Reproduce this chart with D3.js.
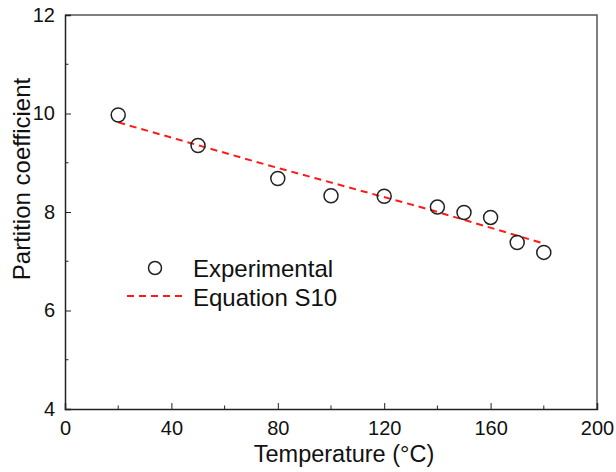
<!DOCTYPE html>
<html>
<head>
<meta charset="UTF-8" />
<title>Partition coefficient vs temperature</title>
<script src="https://d3js.org/d3.v7.min.js"></script>
<style>
	body { margin: 0; background: #fff; }
	text { font-family: Arial, "Liberation Sans", sans-serif; fill: #111; }
</style>
</head>
<body>
<div id="chart"></div>
<script type="text/javascript">

	// experimental points
	var temps = [20, 50, 80, 100, 120, 140, 150, 160, 170, 180]
	var coeffs = [9.97, 9.35, 8.68, 8.33, 8.32, 8.10, 7.99, 7.89, 7.38, 7.18]

	// Equation S10 line
	var fitTemps = [20, 75, 137, 180]
	var fitCoeffs = [9.82, 8.97, 8.05, 7.36]

	var xTicks = [0, 40, 80, 120, 160, 200]
	var yTicks = [4, 6, 8, 10, 12]

	var margin = {top: 15, right: 19, bottom: 63, left: 65},
		width = 616 - margin.left - margin.right,
		height = 472 - margin.top - margin.bottom;

	var svg = d3.select("#chart")
		.append("svg")
			.attr("width", 616)
			.attr("height", 472)
		.append("g")
			.attr("transform", "translate(" + margin.left + "," + margin.top + ")");

	var x = d3.scaleLinear().domain([0, 200]).range([0, width])
	var y = d3.scaleLinear().domain([4, 12]).range([height, 0])

	// frame (top and right)
	svg.append("path")
		.attr("d", "M0,0H" + width + "V" + height)
		.attr("fill", "none")
		.attr("stroke", "#555")
		.attr("stroke-width", 1.5)

	// bottom axis
	var xAxis = svg.append("g")
		.attr("transform", "translate(0," + height + ")")
		.call(d3.axisBottom(x).tickValues(xTicks).tickSize(-6).tickPadding(12).tickFormat(d3.format("d")))
	xAxis.selectAll("text").style("font-size", "20px")
	xAxis.append("g").selectAll("line")
		.data(d3.range(20, 200, 40))
		.enter().append("line")
			.attr("x1", function(d) { return x(d) }).attr("x2", function(d) { return x(d) })
			.attr("y1", 0).attr("y2", -3.5)
			.attr("stroke", "#222")

	// left axis
	var yAxis = svg.append("g")
		.call(d3.axisLeft(y).tickValues(yTicks).tickSize(-6).tickPadding(10).tickFormat(d3.format("d")))
	yAxis.selectAll("text").style("font-size", "20px")
	yAxis.append("g").selectAll("line")
		.data([5, 7, 9, 11])
		.enter().append("line")
			.attr("y1", function(d) { return y(d) }).attr("y2", function(d) { return y(d) })
			.attr("x1", 0).attr("x2", 3.5)
			.attr("stroke", "#222")

	svg.selectAll(".domain").attr("stroke", "#222").attr("stroke-width", 1.5)
	svg.selectAll(".tick line").attr("stroke", "#222")

	// axis titles
	svg.append("text")
		.attr("x", 279)
		.attr("y", height + 53)
		.attr("text-anchor", "middle")
		.style("font-size", "23.5px")
		.text("Temperature (\u00B0C)")
	svg.append("text")
		.attr("transform", "rotate(-90)")
		.attr("x", -164)
		.attr("y", -35)
		.attr("text-anchor", "middle")
		.style("font-size", "24px")
		.text("Partition coefficient")

	// fit line
	var fit = fitTemps.map(function(t, i) { return [t, fitCoeffs[i]] })
	svg.append("path")
		.datum(fit)
		.attr("fill", "none")
		.attr("stroke", "#ff1a1a")
		.attr("stroke-width", 2)
		.attr("stroke-dasharray", "7,5")
		.attr("d", d3.line().x(function(d) { return x(d[0]) }).y(function(d) { return y(d[1]) }))

	// points
	var pts = temps.map(function(t, i) { return [t, coeffs[i]] })
	svg.selectAll("circle.pt")
		.data(pts)
		.enter().append("circle")
			.attr("class", "pt")
			.attr("cx", function(d) { return x(d[0]) })
			.attr("cy", function(d) { return y(d[1]) })
			.attr("r", 7)
			.attr("fill", "none")
			.attr("stroke", "#222")
			.attr("stroke-width", 1.5)

	// legend
	var legend = svg.append("g")
	legend.append("circle")
		.attr("cx", 90).attr("cy", 253).attr("r", 6.5)
		.attr("fill", "none").attr("stroke", "#222").attr("stroke-width", 1.5)
	legend.append("text")
		.attr("x", 128).attr("y", 262)
		.style("font-size", "24px")
		.text("Experimental")
	legend.append("line")
		.attr("x1", 62).attr("x2", 122).attr("y1", 281).attr("y2", 281)
		.attr("stroke", "#ff1a1a").attr("stroke-width", 2).attr("stroke-dasharray", "7,5")
	legend.append("text")
		.attr("x", 128).attr("y", 291)
		.style("font-size", "24px")
		.text("Equation S10")

</script>
</body>
</html>
